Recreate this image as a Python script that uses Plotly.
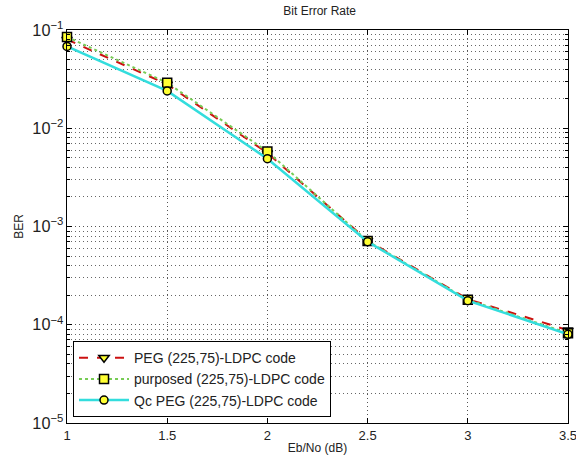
import plotly.graph_objects as go

ebno = [1, 1.5, 2, 2.5, 3, 3.5]
ber_peg = [0.080, 0.028, 0.0056, 0.00072, 0.000182, 0.000088]
ber_purposed = [0.085, 0.029, 0.0058, 0.00071, 0.000180, 0.000082]
ber_qc = [0.068, 0.0240, 0.0049, 0.00070, 0.000176, 0.000080]
names = ["PEG (225,75)-LDPC code", "purposed (225,75)-LDPC code", "Qc PEG (225,75)-LDPC code"]
xticks = [1, 1.5, 2, 2.5, 3, 3.5]

fig = go.Figure()
fig.add_trace(go.Scatter(x=ebno, y=ber_peg, name=names[0], mode="lines+markers", cliponaxis=False,
                         line=dict(color="#cc1111", dash="dash", width=2),
                         marker=dict(symbol="triangle-down", size=9, color="#ffff33",
                                     line=dict(color="black", width=1.5))))
fig.add_trace(go.Scatter(x=ebno, y=ber_purposed, name=names[1], mode="lines+markers", cliponaxis=False,
                         line=dict(color="#77cc55", dash="dot", width=2),
                         marker=dict(symbol="square", size=9, color="#ffff33",
                                     line=dict(color="black", width=1.5))))
fig.add_trace(go.Scatter(x=ebno, y=ber_qc, name=names[2], mode="lines+markers", cliponaxis=False,
                         line=dict(color="#33dddd", width=2.5),
                         marker=dict(symbol="circle", size=8, color="#ffff33",
                                     line=dict(color="black", width=1.5))))

grid_dash = "1px,3px"
fig.update_layout(
    width=576, height=468,
    margin=dict(l=67, r=8, t=30, b=45),
    paper_bgcolor="white", plot_bgcolor="white",
    font=dict(family="Liberation Sans, Arial", size=13, color="#222222"),
    title=dict(text="Bit Error Rate", x=0.555, xanchor="center", y=0.985, yanchor="top",
               font=dict(size=12)),
    showlegend=True,
    legend=dict(x=0.012, y=0.015, xanchor="left", yanchor="bottom",
                bgcolor="white", bordercolor="black", borderwidth=1,
                font=dict(size=14), tracegroupgap=0, itemwidth=50),
)
fig.update_xaxes(range=[1, 3.5], tickvals=xticks, ticktext=[str(v) for v in xticks],
                 ticklabeloverflow="allow", automargin=False,
                 showline=True, linecolor="black", linewidth=1, mirror="ticks",
                 ticks="inside", ticklen=5, tickcolor="black",
                 showgrid=True, gridcolor="#555555", griddash=grid_dash, gridwidth=1,
                 zeroline=False,
                 title=dict(text="Eb/No (dB)", standoff=2, font=dict(size=12)))
fig.update_yaxes(type="log", range=[-5, -1], dtick=1, exponentformat="power",
                 automargin=False,
                 showline=True, linecolor="black", linewidth=1, mirror="ticks",
                 ticks="inside", ticklen=5, tickcolor="black",
                 showgrid=True, gridcolor="#555555", griddash=grid_dash, gridwidth=1,
                 minor=dict(dtick="D1", showgrid=True, gridcolor="#666666", griddash=grid_dash,
                            ticks="inside", ticklen=3, tickcolor="black"),
                 title=dict(text="BER", standoff=6, font=dict(size=12)))

fig.write_html("out.html", config={"displayModeBar": False},
               post_script="document.body.style.margin='0';")
